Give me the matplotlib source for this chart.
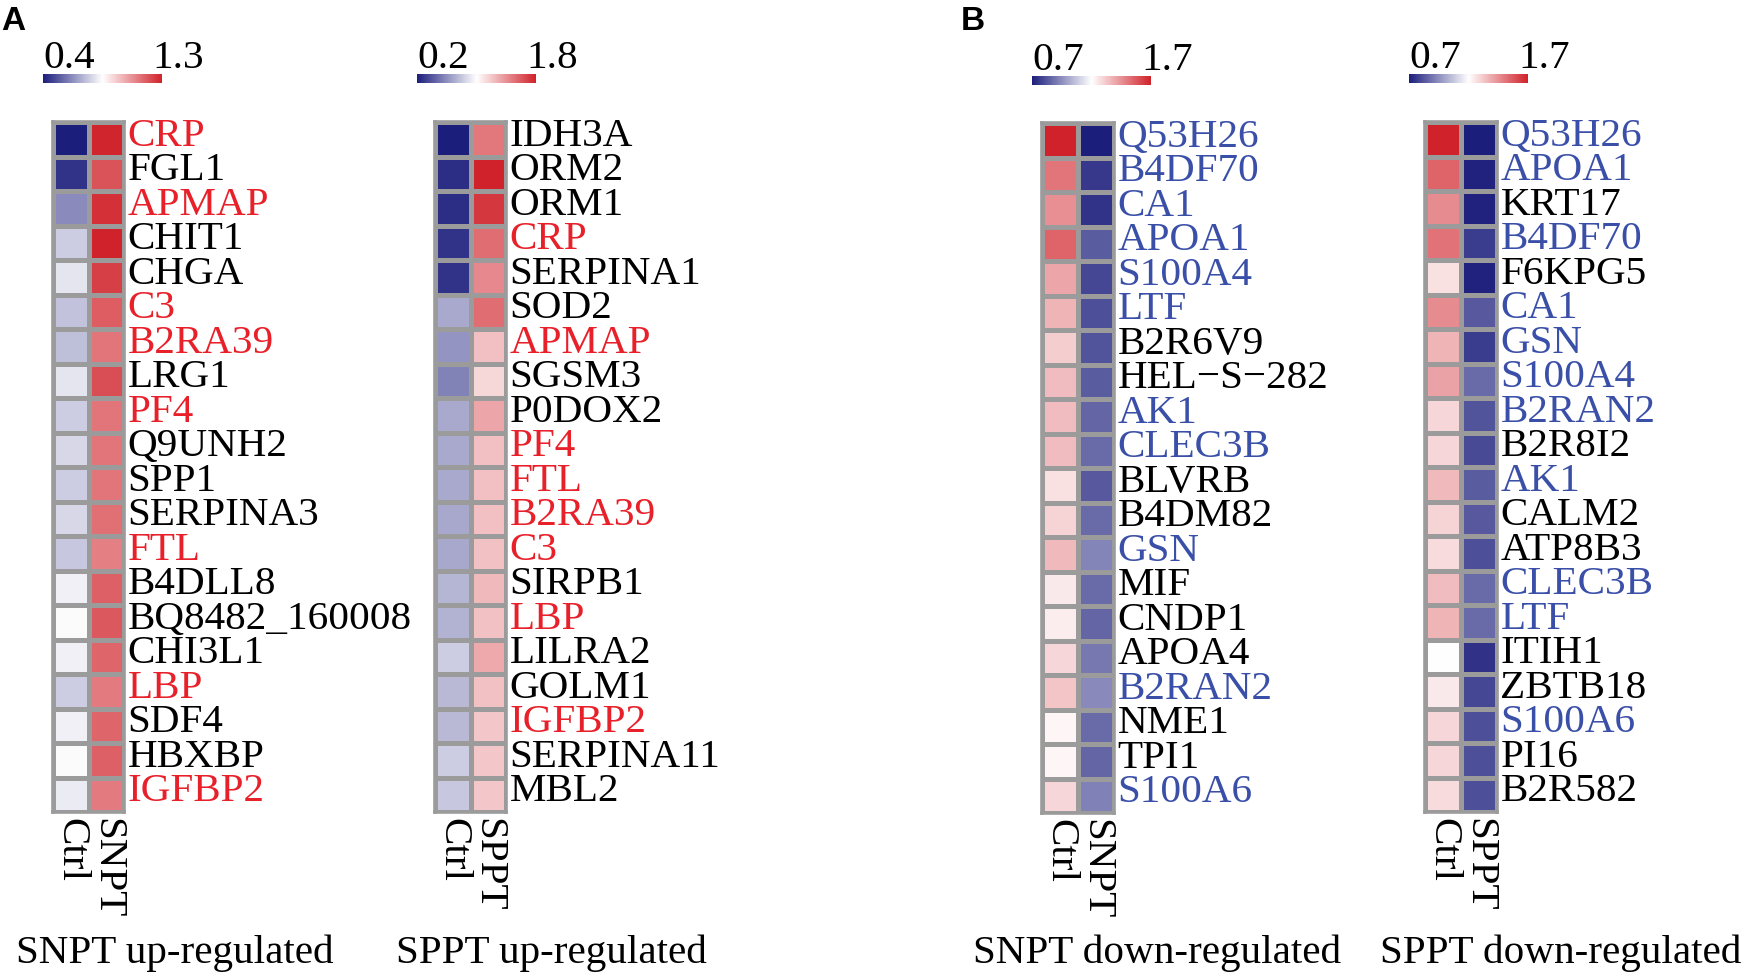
import numpy as np
import matplotlib
matplotlib.use("Agg")
import matplotlib.pyplot as plt
from matplotlib.colors import LinearSegmentedColormap, Normalize
from matplotlib.cm import ScalarMappable

# ---------------- data ----------------
a1_genes = ["CRP", "FGL1", "APMAP", "CHIT1", "CHGA", "C3", "B2RA39", "LRG1", "PF4", "Q9UNH2",
            "SPP1", "SERPINA3", "FTL", "B4DLL8", "BQ8482_160008", "CHI3L1", "LBP", "SDF4", "HBXBP", "IGFBP2"]
a1_ctrl = [0.40, 0.445, 0.62, 0.75, 0.80, 0.73, 0.72, 0.80, 0.75, 0.77,
           0.75, 0.77, 0.74, 0.82, 0.84, 0.82, 0.75, 0.82, 0.84, 0.81]
a1_case = [1.29, 1.20, 1.27, 1.30, 1.24, 1.18, 1.13, 1.21, 1.13, 1.13,
           1.13, 1.14, 1.11, 1.17, 1.19, 1.16, 1.12, 1.16, 1.17, 1.12]
a1_hl = ["CRP", "APMAP", "C3", "B2RA39", "PF4", "FTL", "LBP", "IGFBP2"]
a1_range = [0.4, 1.3]

a2_genes = ["IDH3A", "ORM2", "ORM1", "CRP", "SERPINA1", "SOD2", "APMAP", "SGSM3", "P0DOX2", "PF4",
            "FTL", "B2RA39", "C3", "SIRPB1", "LBP", "LILRA2", "GOLM1", "IGFBP2", "SERPINA11", "MBL2"]
a2_ctrl = [0.20, 0.26, 0.26, 0.28, 0.28, 0.70, 0.62, 0.56, 0.70, 0.70,
           0.70, 0.69, 0.69, 0.74, 0.73, 0.82, 0.75, 0.75, 0.82, 0.80]
a2_case = [1.49, 1.80, 1.72, 1.53, 1.43, 1.53, 1.23, 1.14, 1.32, 1.23,
           1.23, 1.23, 1.22, 1.25, 1.22, 1.31, 1.22, 1.20, 1.20, 1.20]
a2_hl = ["CRP", "APMAP", "PF4", "FTL", "B2RA39", "C3", "LBP", "IGFBP2"]
a2_range = [0.2, 1.8]

b1_genes = ["Q53H26", "B4DF70", "CA1", "APOA1", "S100A4", "LTF", "B2R6V9", "HEL\u2212S\u2212282", "AK1", "CLEC3B",
            "BLVRB", "B4DM82", "GSN", "MIF", "CNDP1", "APOA4", "B2RAN2", "NME1", "TPI1", "S100A6"]
b1_ctrl = [1.70, 1.51, 1.45, 1.55, 1.40, 1.37, 1.31, 1.35, 1.35, 1.35,
           1.27, 1.30, 1.36, 1.25, 1.24, 1.29, 1.33, 1.22, 1.22, 1.29]
b1_case = [0.70, 0.76, 0.75, 0.84, 0.79, 0.81, 0.82, 0.84, 0.86, 0.87,
           0.83, 0.87, 0.93, 0.87, 0.86, 0.90, 0.94, 0.87, 0.86, 0.92]
b1_hl = ["Q53H26", "B4DF70", "CA1", "APOA1", "S100A4", "LTF", "AK1", "CLEC3B", "GSN", "B2RAN2", "S100A6"]
b1_range = [0.7, 1.7]

b2_genes = ["Q53H26", "APOA1", "KRT17", "B4DF70", "F6KPG5", "CA1", "GSN", "S100A4", "B2RAN2", "B2R8I2",
            "AK1", "CALM2", "ATP8B3", "CLEC3B", "LTF", "ITIH1", "ZBTB18", "S100A6", "PI16", "B2R582"]
b2_ctrl = [1.70, 1.55, 1.46, 1.52, 1.27, 1.46, 1.37, 1.41, 1.29, 1.29,
           1.36, 1.30, 1.28, 1.35, 1.37, 1.20, 1.25, 1.29, 1.29, 1.28]
b2_case = [0.70, 0.71, 0.71, 0.77, 0.71, 0.83, 0.77, 0.87, 0.82, 0.80,
           0.84, 0.83, 0.81, 0.87, 0.87, 0.745, 0.79, 0.81, 0.81, 0.81]
b2_hl = ["Q53H26", "APOA1", "B4DF70", "CA1", "GSN", "S100A4", "B2RAN2", "AK1", "CLEC3B", "LTF", "S100A6"]
b2_range = [0.7, 1.7]

titles = ["SNPT up-regulated", "SPPT up-regulated", "SNPT down-regulated", "SPPT down-regulated"]
columns = [["Ctrl", "SNPT"], ["Ctrl", "SPPT"], ["Ctrl", "SNPT"], ["Ctrl", "SPPT"]]
panel_letters = ["A", "B"]

# ---------------- style ----------------
W, H = 1741, 973
fig = plt.figure(figsize=(W / 100, H / 100), dpi=100)
SERIF = ["Liberation Serif", "DejaVu Serif"]
FS = 29.6
cmap = LinearSegmentedColormap.from_list("nwr", ["#1C1E7C", "#FFFFFF", "#D0222A"])
GRID = "#9B9B9B"


def fx(px):
    return px / W


def fy(py):
    return 1 - py / H


def add_ax(x0, y0, x1, y1):
    return fig.add_axes([fx(x0), fy(y1), fx(x1 - x0), (y1 - y0) / H])


panels = [
    dict(genes=a1_genes, ctrl=a1_ctrl, case=a1_case, hl=a1_hl, rng=a1_range, hlc="#E8202A",
         box=(53, 122, 124, 812), cb=(43, 74, 162, 83)),
    dict(genes=a2_genes, ctrl=a2_ctrl, case=a2_case, hl=a2_hl, rng=a2_range, hlc="#E8202A",
         box=(435, 122, 506, 812), cb=(417, 74, 536, 83)),
    dict(genes=b1_genes, ctrl=b1_ctrl, case=b1_case, hl=b1_hl, rng=b1_range, hlc="#3A4FA8",
         box=(1042, 123, 1114, 813), cb=(1032, 76, 1151, 85)),
    dict(genes=b2_genes, ctrl=b2_ctrl, case=b2_case, hl=b2_hl, rng=b2_range, hlc="#3A4FA8",
         box=(1425, 122, 1497, 812), cb=(1409, 74, 1528, 83)),
]
title_x = [175, 551, 1157, 1561]

for i, p in enumerate(panels):
    ax = add_ax(*p["box"])
    data = np.column_stack([p["ctrl"], p["case"]])
    n = len(p["genes"])
    ax.pcolormesh(data, cmap=cmap, vmin=p["rng"][0], vmax=p["rng"][1],
                  edgecolors=GRID, linewidth=2.2)
    ax.set_xlim(0, 2)
    ax.set_ylim(n, 0)
    for s in ax.spines.values():
        s.set_color(GRID)
        s.set_linewidth(2.6)
    ax.set_yticks([])
    tr = ax.get_yaxis_transform()
    for k, g in enumerate(p["genes"]):
        ax.annotate(g, xy=(1.0, k + 0.5), xycoords=tr, xytext=(2.5, 5.5),
                    textcoords="offset points", ha="left", va="center_baseline",
                    fontsize=FS, family=SERIF,
                    color=p["hlc"] if g in p["hl"] else "black", annotation_clip=False)
    ax.set_xticks(np.arange(2) + 0.5)
    ax.set_xticklabels(columns[i], fontsize=FS, family=SERIF, rotation=270)
    ax.tick_params(length=0)
    ax.tick_params(axis="x", pad=4)

    # colour key
    x0, y0, x1, y1 = p["cb"]
    cax = add_ax(x0, y0, x1, y1)
    sm = ScalarMappable(norm=Normalize(*p["rng"]), cmap=cmap)
    cb = fig.colorbar(sm, cax=cax, orientation="horizontal")
    cb.outline.set_visible(False)
    cax.set_xticks([])
    fig.text(fx(x0), fy(y0 - 6), f"{p['rng'][0]:.1f}", fontsize=FS, family=SERIF,
             ha="left", va="baseline")
    fig.text(fx(x1 - 10), fy(y0 - 6), f"{p['rng'][1]:.1f}", fontsize=FS, family=SERIF,
             ha="left", va="baseline")

    fig.text(fx(title_x[i]), fy(963), titles[i], fontsize=FS, family=SERIF,
             ha="center", va="baseline")

fig.text(fx(1), fy(6), panel_letters[0], fontsize=24, fontweight="bold",
         family=["Liberation Sans", "DejaVu Sans"], ha="left", va="top")
fig.text(fx(961), fy(6), panel_letters[1], fontsize=24, fontweight="bold",
         family=["Liberation Sans", "DejaVu Sans"], ha="left", va="top")

fig.savefig("out.png", dpi=100)
